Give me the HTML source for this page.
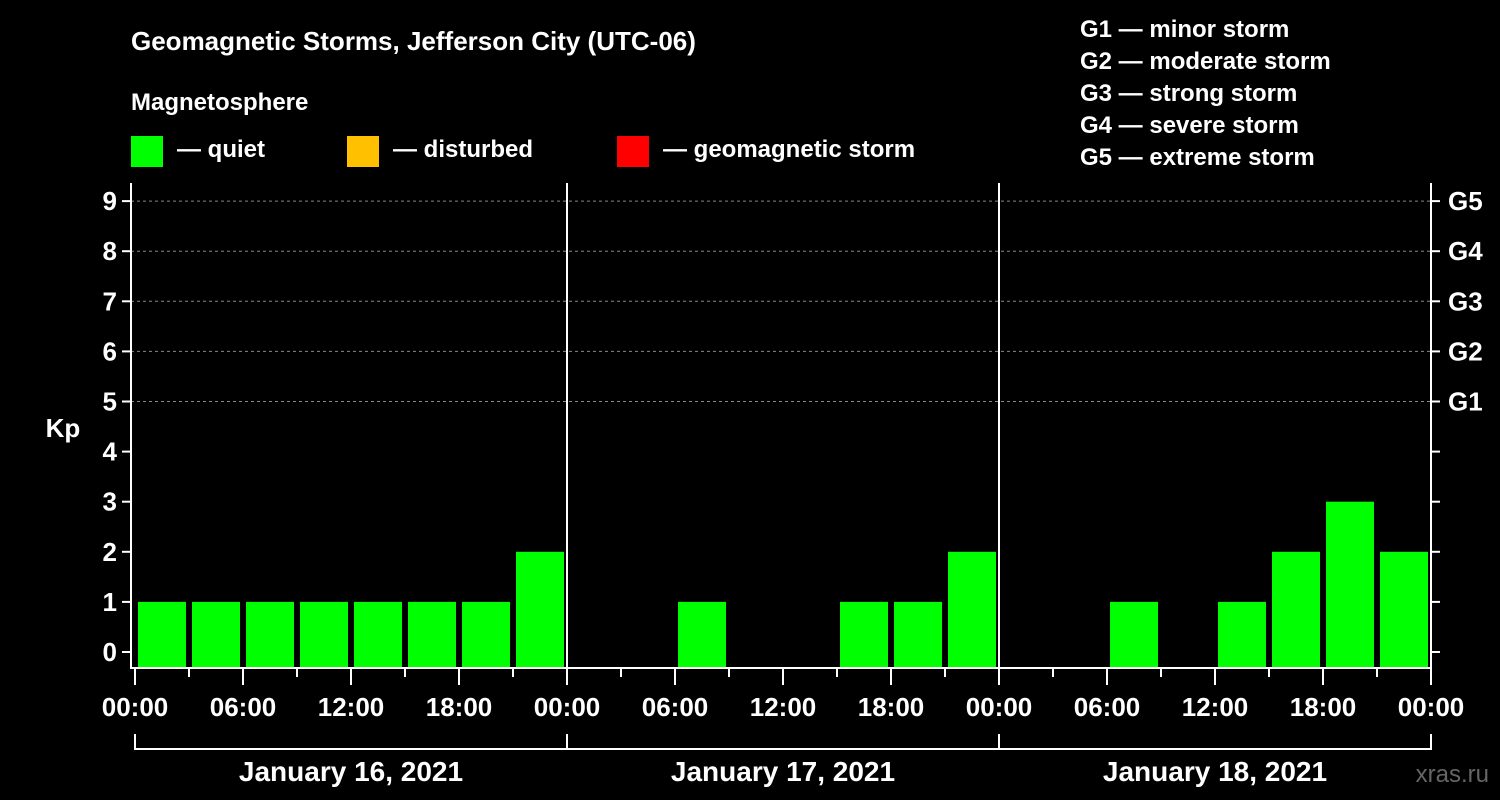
<!DOCTYPE html>
<html><head><meta charset="utf-8"><style>
body{margin:0;background:#000;}
svg{display:block;font-family:"Liberation Sans",Arial,sans-serif;font-weight:bold;}
</style></head><body>
<svg id="chart" width="1500" height="800" viewBox="0 0 1500 800">
<rect width="1500" height="800" fill="#000"/>
<text x="131" y="50" fill="#fff" font-size="26">Geomagnetic Storms, Jefferson City (UTC-06)</text>
<text x="131" y="110" fill="#fff" font-size="24">Magnetosphere</text>
<g><rect x="131" y="136" width="32" height="31" fill="#00ff00"/><text x="177" y="157" fill="#fff" font-size="24">— quiet</text></g>
<g><rect x="347" y="136" width="32" height="31" fill="#ffc000"/><text x="393" y="157" fill="#fff" font-size="24">— disturbed</text></g>
<g><rect x="617" y="136" width="32" height="31" fill="#ff0000"/><text x="663" y="157" fill="#fff" font-size="24">— geomagnetic storm</text></g>
<g fill="#fff" font-size="24">
<text x="1080" y="37">G1 — minor storm</text><text x="1080" y="69">G2 — moderate storm</text><text x="1080" y="101">G3 — strong storm</text><text x="1080" y="133">G4 — severe storm</text><text x="1080" y="165">G5 — extreme storm</text>
</g>
<text x="63" y="437" fill="#fff" font-size="26" text-anchor="middle">Kp</text>
<text x="1489" y="782" fill="#666" font-size="24" text-anchor="end" font-weight="normal">xras.ru</text>
<g id="plot"></g>
</svg>
<script>
const dayLabels=["January 16, 2021","January 17, 2021","January 18, 2021"];
const kpDay1=[1,1,1,1,1,1,1,2];
const kpDay2=[0,0,1,0,0,1,1,2];
const kpDay3=[0,0,1,0,1,2,3,2];
const yTicks=[0,1,2,3,4,5,6,7,8,9];
const gLabels=["G1","G2","G3","G4","G5"];
const hourLabels=["00:00","06:00","12:00","18:00"];
const NS="http://www.w3.org/2000/svg";
const g=document.getElementById('plot');
const X0=135,DAYW=432,SLOT=54,TOP=183,BOT=668,LEFT=131,RIGHT=1431;
const y=v=>652-v*50.1;
const x=(d,h)=>X0+d*DAYW+h/3*SLOT;
function el(t,a,parent){const e=document.createElementNS(NS,t);for(const k in a)e.setAttribute(k,a[k]);(parent||g).appendChild(e);return e;}
// grid
yTicks.forEach(v=>{
 if(v>=5){const l=el('line',{x1:LEFT,x2:RIGHT,y1:y(v),y2:y(v),stroke:'#888','stroke-dasharray':'3,3','stroke-width':1});
 
 }
 const t=el('line',{x1:LEFT-9,x2:LEFT,y1:y(v),y2:y(v),stroke:'#fff','stroke-width':2});
 
 
 const t2=el('line',{x1:RIGHT,x2:RIGHT+9,y1:y(v),y2:y(v),stroke:'#fff','stroke-width':2});
 
 
 const lb=el('text',{x:LEFT-14,y:y(v)+9,fill:'#fff','font-size':26,'text-anchor':'end'});lb.textContent=v;
 
 
});
gLabels.forEach((s,i)=>{const lb=el('text',{x:RIGHT+17,y:y(5+i)+9,fill:'#fff','font-size':26});lb.textContent=s;
 
 });
// bars
[kpDay1,kpDay2,kpDay3].forEach((arr,d)=>arr.forEach((v,i)=>{
 if(v<=0)return;
 const b=el('rect',{x:x(d,i*3)+3,y:y(v),width:48,height:BOT-y(v),fill:'#00ff00'});
 
 
}));
// axes
const ax=el('path',{d:`M${LEFT} ${TOP}V${BOT}H${RIGHT}V${TOP}`,fill:'none',stroke:'#fff','stroke-width':2});


for(let d=1;d<3;d++){const l=el('line',{x1:x(d,0),x2:x(d,0),y1:TOP,y2:BOT,stroke:'#fff','stroke-width':2});
 
 }
for(let d=0;d<3;d++){
 for(let h=0;h<24;h+=3){const long=h%6===0;const t=el('line',{x1:x(d,h),x2:x(d,h),y1:BOT,y2:BOT+(long?17:9),stroke:'#fff','stroke-width':2});
  
  }
 hourLabels.forEach((s,i)=>{const lb=el('text',{x:x(d,i*6),y:716,fill:'#fff','font-size':26,'text-anchor':'middle'});lb.textContent=s;
  
  });
 const dl=el('text',{x:x(d,12),y:781,fill:'#fff','font-size':28,'text-anchor':'middle'});dl.textContent=dayLabels[d];
 
 
}
const lt=el('line',{x1:x(3,0),x2:x(3,0),y1:BOT,y2:BOT+17,stroke:'#fff','stroke-width':2});


const el0=el('text',{x:x(3,0),y:716,fill:'#fff','font-size':26,'text-anchor':'middle'});el0.textContent="00:00";


let dp=`M${X0} 734V749H${x(3,0)}V734`;for(let d=1;d<3;d++)dp+=`M${x(d,0)} 734V749`;
const br=el('path',{d:dp,fill:'none',stroke:'#fff','stroke-width':2});


</script>
</body></html>
